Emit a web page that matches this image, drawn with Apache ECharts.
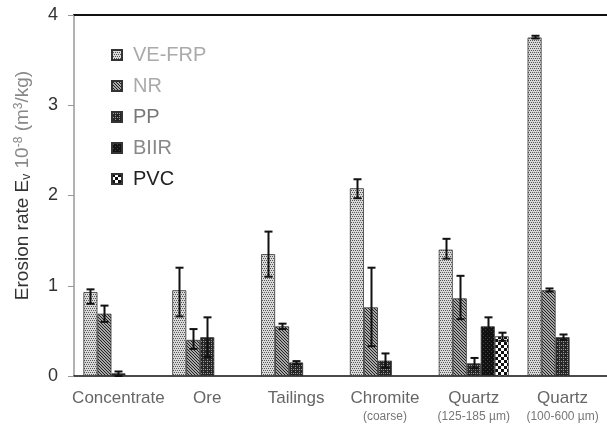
<!DOCTYPE html>
<html>
<head>
<meta charset="utf-8">
<script src="https://cdn.jsdelivr.net/npm/echarts@6/dist/echarts.min.js"></script>
<style>html,body{margin:0;padding:0;background:#fff}#c{width:607px;height:424px}</style>
</head>
<body>
<div id="c"></div>
<script>
// ---- data ----
const categories = ['Concentrate', 'Ore', 'Tailings', 'Chromite', 'Quartz', 'Quartz'];
const subLabels = ['', '', '', '(coarse)', '(125-185 µm)', '(100-600 µm)'];
const yTicks = [0, 1, 2, 3, 4];
const materials = ['VE-FRP', 'NR', 'PP', 'BIIR', 'PVC'];

const veFrp = [0.93, 0.95, 1.35, 2.08, 1.40, 3.75];
const nr    = [0.69, 0.40, 0.55, 0.76, 0.86, 0.95];
const pp    = [0.03, 0.43, 0.15, 0.17, 0.14, 0.43];
const biir  = [null, null, null, null, 0.55, null];
const pvc   = [null, null, null, null, 0.44, null];

// error bars [low, high]
const veFrpErr = [[0.80, 0.96], [0.66, 1.20], [1.10, 1.60], [1.97, 2.18], [1.30, 1.52], [3.74, 3.77]];
const nrErr    = [[0.60, 0.78], [0.30, 0.52], [0.52, 0.58], [0.33, 1.20], [0.63, 1.11], [0.935, 0.97]];
const ppErr    = [[0.00, 0.05], [0.21, 0.65], [0.13, 0.165], [0.09, 0.25], [0.085, 0.20], [0.40, 0.46]];
const biirErr  = [null, null, null, null, [0.46, 0.65], null];
const pvcErr   = [null, null, null, null, [0.39, 0.48], null];

const values = [veFrp, nr, pp, biir, pvc];
const errors = [veFrpErr, nrErr, ppErr, biirErr, pvcErr];

// ---- patterns ----
function pattern(size, bg, fg, cells) {
  const cv = document.createElement('canvas');
  cv.width = size; cv.height = size;
  const ctx = cv.getContext('2d');
  ctx.fillStyle = bg; ctx.fillRect(0, 0, size, size);
  ctx.fillStyle = fg;
  cells.forEach(c => ctx.fillRect(c[0], c[1], c[2] || 1, c[3] || 1));
  return { image: cv, repeat: 'repeat' };
}
const fills = [
  pattern(4, '#dadada', '#555555', [[0, 0], [2, 0], [1, 2], [3, 2]]),
  pattern(3, '#a8a8a8', '#222222', [[0, 0], [1, 1], [2, 2]]),
  pattern(4, '#262626', '#9a9a9a', [[1, 1], [3, 3], [3, 1]]),
  pattern(4, '#121212', '#444444', [[1, 1], [3, 3]]),
  pattern(6, '#ffffff', '#111111', [[0, 0, 3, 3], [3, 3, 3, 3]])
];
const legendColors = ['#aaaaaa', '#aaaaaa', '#777777', '#888888', '#222222'];

const BAR_W = 14;
const N = materials.length;

const series = [];
materials.forEach((m, k) => {
  series.push({
    name: m, type: 'bar', barWidth: BAR_W, barGap: '0%',
    data: values[k],
    itemStyle: { color: fills[k], borderColor: '#333', borderWidth: 0.8 },
    silent: true
  });
});
materials.forEach((m, k) => {
  const d = [];
  errors[k].forEach((e, i) => { if (e) d.push([i, e[0], e[1]]); });
  series.push({
    name: m + ' err', type: 'custom', silent: true, z: 5,
    data: d,
    renderItem: function (params, api) {
      const ci = api.value(0);
      const lo = api.coord([ci, api.value(1)]);
      const hi = api.coord([ci, api.value(2)]);
      const x = Math.round(lo[0] - N * BAR_W / 2 + BAR_W * (k + 0.5)) + 0.5;
      const cap = 4;
      const st = { stroke: '#111', lineWidth: 2 };
      return {
        type: 'group',
        children: [
          { type: 'line', shape: { x1: x, y1: lo[1], x2: x, y2: hi[1] }, style: st },
          { type: 'line', shape: { x1: x - cap, y1: hi[1], x2: x + cap, y2: hi[1] }, style: st },
          { type: 'line', shape: { x1: x - cap, y1: lo[1], x2: x + cap, y2: lo[1] }, style: st }
        ]
      };
    }
  });
});

const chart = echarts.init(document.getElementById('c'), null, { renderer: 'canvas' });
chart.setOption({
  animation: false,
  backgroundColor: '#fff',
  textStyle: { fontFamily: 'Liberation Sans, Arial, sans-serif' },
  grid: { left: 74, top: 15, width: 542, bottom: 48, containLabel: false },
  legend: {
    orient: 'vertical', left: 106, top: 40,
    itemWidth: 10, itemHeight: 10, itemGap: 11,
    icon: 'rect',
    data: materials.map((m, k) => ({ name: m, textStyle: { color: legendColors[k] } })),
    textStyle: { fontSize: 20, padding: [0, 0, 0, 6], fontFamily: 'Liberation Sans, Arial, sans-serif' },
    selectedMode: false
  },
  xAxis: [{
    type: 'category', data: categories, position: 'bottom',
    axisLine: { onZero: false, lineStyle: { color: '#111', width: 1.5 } },
    axisTick: { show: false },
    axisLabel: {
      interval: 0, margin: 14, color: '#666', fontSize: 17,
      formatter: function (v, i) { return subLabels[i] ? v + '\n{s|' + subLabels[i] + '}' : v; },
      rich: { s: { fontSize: 12, color: '#777', lineHeight: 20 } }
    }
  }, {
    type: 'category', data: categories, position: 'top',
    axisLine: { show: true, onZero: false, lineStyle: { color: '#111', width: 2 } },
    axisTick: { show: false }, axisLabel: { show: false }
  }],
  yAxis: {
    type: 'value', min: yTicks[0], max: yTicks[yTicks.length - 1], interval: 1,
    axisLine: { show: true, lineStyle: { color: '#999', width: 1.5 } },
    axisTick: { show: true, length: 6, lineStyle: { color: '#999' } },
    splitLine: { show: false },
    axisLabel: { color: '#333', fontSize: 18, margin: 16 },
    name: '{a|Erosion rate E}{sub|v}{b| 10}{sup|-8}{b| (m}{sup|3}{b|/kg)}',
    nameLocation: 'middle', nameGap: 41, nameRotate: 90,
    nameTextStyle: {
      padding: [0, 0, 0, 20],
      rich: {
        a: { fontSize: 19, color: '#333' },
        sub: { fontSize: 12, color: '#333', verticalAlign: 'bottom', padding: [8, 0, 0, 0] },
        b: { fontSize: 19, color: '#888' },
        sup: { fontSize: 12, color: '#888', verticalAlign: 'top', padding: [0, 0, 8, 0] }
      }
    }
  },
  series: series
});
</script>
</body>
</html>
